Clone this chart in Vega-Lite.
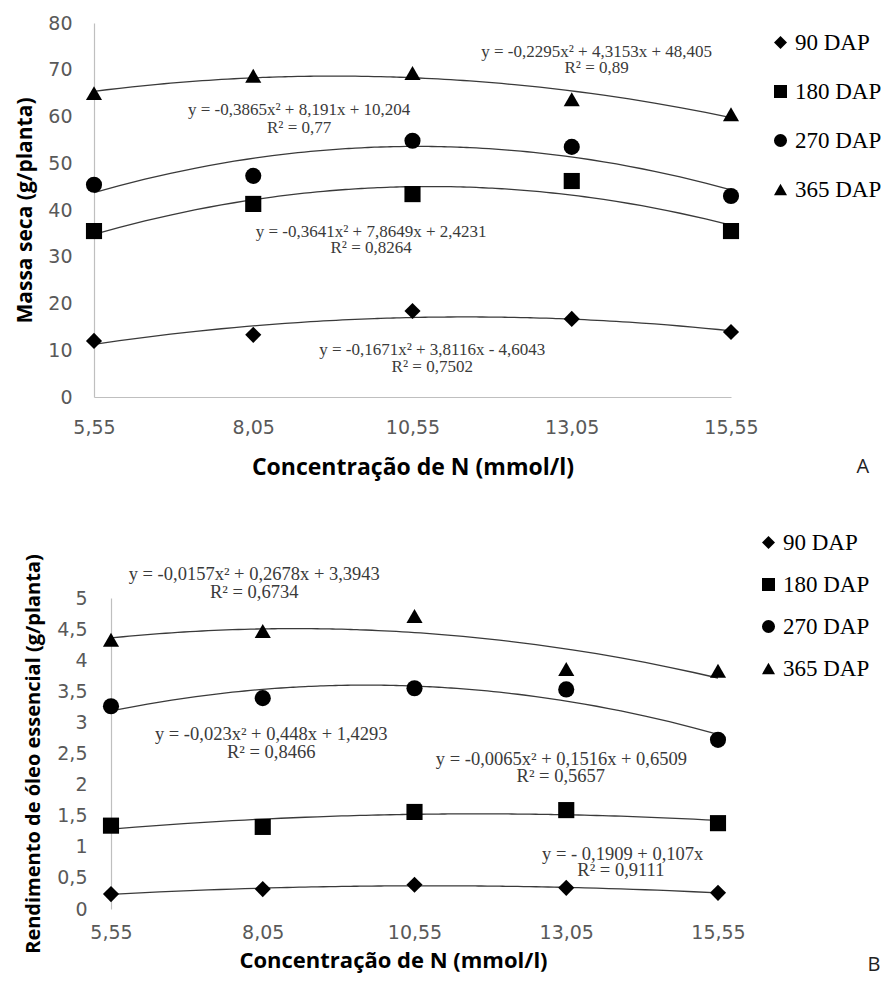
{
  "$schema": "https://vega.github.io/schema/vega-lite/v6.json",
  "background": "white",
  "padding": {"left": 14, "top": 14, "right": 0, "bottom": 5},
  "spacing": 52,
  "datasets": {
    "massa": [
      {"x": 5.55, "y": 12.0, "s": "90 DAP"}, {"x": 8.05, "y": 13.3, "s": "90 DAP"}, {"x": 10.55, "y": 18.4, "s": "90 DAP"}, {"x": 13.05, "y": 16.7, "s": "90 DAP"}, {"x": 15.55, "y": 13.9, "s": "90 DAP"},
      {"x": 5.55, "y": 35.5, "s": "180 DAP"}, {"x": 8.05, "y": 41.3, "s": "180 DAP"}, {"x": 10.55, "y": 43.4, "s": "180 DAP"}, {"x": 13.05, "y": 46.2, "s": "180 DAP"}, {"x": 15.55, "y": 35.5, "s": "180 DAP"},
      {"x": 5.55, "y": 45.4, "s": "270 DAP"}, {"x": 8.05, "y": 47.3, "s": "270 DAP"}, {"x": 10.55, "y": 54.8, "s": "270 DAP"}, {"x": 13.05, "y": 53.5, "s": "270 DAP"}, {"x": 15.55, "y": 43.0, "s": "270 DAP"},
      {"x": 5.55, "y": 65.0, "s": "365 DAP"}, {"x": 8.05, "y": 68.7, "s": "365 DAP"}, {"x": 10.55, "y": 69.3, "s": "365 DAP"}, {"x": 13.05, "y": 63.7, "s": "365 DAP"}, {"x": 15.55, "y": 60.5, "s": "365 DAP"}
    ],
    "oleo": [
      {"x": 5.55, "y": 0.24, "s": "90 DAP"}, {"x": 8.05, "y": 0.32, "s": "90 DAP"}, {"x": 10.55, "y": 0.39, "s": "90 DAP"}, {"x": 13.05, "y": 0.34, "s": "90 DAP"}, {"x": 15.55, "y": 0.26, "s": "90 DAP"},
      {"x": 5.55, "y": 1.34, "s": "180 DAP"}, {"x": 8.05, "y": 1.32, "s": "180 DAP"}, {"x": 10.55, "y": 1.56, "s": "180 DAP"}, {"x": 13.05, "y": 1.59, "s": "180 DAP"}, {"x": 15.55, "y": 1.38, "s": "180 DAP"},
      {"x": 5.55, "y": 3.26, "s": "270 DAP"}, {"x": 8.05, "y": 3.39, "s": "270 DAP"}, {"x": 10.55, "y": 3.55, "s": "270 DAP"}, {"x": 13.05, "y": 3.53, "s": "270 DAP"}, {"x": 15.55, "y": 2.72, "s": "270 DAP"},
      {"x": 5.55, "y": 4.33, "s": "365 DAP"}, {"x": 8.05, "y": 4.47, "s": "365 DAP"}, {"x": 10.55, "y": 4.71, "s": "365 DAP"}, {"x": 13.05, "y": 3.86, "s": "365 DAP"}, {"x": 15.55, "y": 3.83, "s": "365 DAP"}
    ],
    "annA": [
      {"x": 13.44, "y": 73.8, "t": "y = -0,2295x² + 4,3153x + 48,405"},
      {"x": 13.44, "y": 70.4, "t": "R² = 0,89"},
      {"x": 8.77, "y": 61.3, "t": "y = -0,3865x² + 8,191x + 10,204"},
      {"x": 8.77, "y": 57.5, "t": "R² = 0,77"},
      {"x": 9.90, "y": 35.3, "t": "y = -0,3641x² + 7,8649x + 2,4231"},
      {"x": 9.90, "y": 31.9, "t": "R² = 0,8264"},
      {"x": 10.86, "y": 10.05, "t": "y = -0,1671x² + 3,8116x - 4,6043"},
      {"x": 10.86, "y": 6.4, "t": "R² = 0,7502"}
    ],
    "annB": [
      {"x": 7.91, "y": 5.39, "t": "y = -0,0157x² + 0,2678x + 3,3943"},
      {"x": 7.91, "y": 5.10, "t": "R² = 0,6734"},
      {"x": 8.19, "y": 2.82, "t": "y = -0,023x² + 0,448x + 1,4293"},
      {"x": 8.19, "y": 2.53, "t": "R² = 0,8466"},
      {"x": 12.97, "y": 2.41, "t": "y = -0,0065x² + 0,1516x + 0,6509"},
      {"x": 12.96, "y": 2.14, "t": "R² = 0,5657"},
      {"x": 13.98, "y": 0.89, "t": "y = - 0,1909 + 0,107x"},
      {"x": 13.95, "y": 0.63, "t": "R² = 0,9111"}
    ]
  },
  "resolve": {"scale": {"shape": "independent", "y": "independent", "x": "independent"}, "legend": {"shape": "independent"}},
  "vconcat": [
    {
      "width": 637,
      "height": 374,
      "layer": [
        {
          "data": {"name": "massa"},
          "transform": [{"regression": "y", "on": "x", "groupby": ["s"], "method": "poly", "order": 2, "extent": [5.55, 15.55]}],
          "mark": {"type": "line", "color": "#3a3a3a", "strokeWidth": 1.3},
          "encoding": {
            "x": {"field": "x", "type": "quantitative", "scale": {"domain": [5.55, 15.55], "nice": false, "zero": false},
              "axis": {"values": [5.55, 8.05, 10.55, 13.05, 15.55], "tickCount": 10, "labelExpr": "replace(format(datum.value, '.2f'), '.', ',')", "title": "Concentração de N (mmol/l)", "labelPadding": 21, "titlePadding": 19, "titleFontSize": 23, "labelOverlap": false, "labelFlush": false}},
            "y": {"field": "y", "type": "quantitative", "scale": {"domain": [0, 80], "nice": false},
              "axis": {"values": [0, 10, 20, 30, 40, 50, 60, 70, 80], "tickCount": 12, "title": "Massa seca (g/planta)", "labelPadding": 22, "titlePadding": 12, "labelOverlap": false}},
            "detail": {"field": "s"}
          }
        },
        {
          "data": {"name": "massa"},
          "mark": {"type": "point", "filled": true, "color": "black", "opacity": 1, "strokeWidth": 0, "size": 260},
          "encoding": {
            "x": {"field": "x", "type": "quantitative"},
            "y": {"field": "y", "type": "quantitative"},
            "shape": {"field": "s", "type": "nominal", "scale": {"domain": ["90 DAP", "180 DAP", "270 DAP", "365 DAP"], "range": ["diamond", "square", "circle", "triangle-up"]},
              "legend": {"title": null, "orient": "none", "legendX": 675, "legendY": 8, "rowPadding": 25}}
          }
        },
        {
          "data": {"name": "annA"},
          "mark": {"type": "text", "font": "Liberation Serif", "fontSize": 17, "color": "#3a3a3a", "baseline": "middle", "align": "center"},
          "encoding": {
            "x": {"field": "x", "type": "quantitative"},
            "y": {"field": "y", "type": "quantitative"},
            "text": {"field": "t"}
          }
        },
        {
          "data": {"values": [{"x": 17.62, "y": -15.0, "t": "A"}]},
          "mark": {"type": "text", "font": "Open Sans", "fontSize": 20, "color": "#222222", "baseline": "middle", "align": "center"},
          "encoding": {
            "x": {"field": "x", "type": "quantitative"},
            "y": {"field": "y", "type": "quantitative"},
            "text": {"field": "t"}
          }
        }
      ]
    },
    {
      "width": 624,
      "height": 311,
      "layer": [
        {
          "data": {"name": "oleo"},
          "transform": [{"regression": "y", "on": "x", "groupby": ["s"], "method": "poly", "order": 2, "extent": [5.55, 15.55]}],
          "mark": {"type": "line", "color": "#3a3a3a", "strokeWidth": 1.3},
          "encoding": {
            "x": {"field": "x", "type": "quantitative", "scale": {"domain": [5.27, 15.55], "nice": false, "zero": false},
              "axis": {"values": [5.55, 8.05, 10.55, 13.05, 15.55], "tickCount": 10, "domain": false, "labelExpr": "replace(format(datum.value, '.2f'), '.', ',')", "title": "Concentração de N (mmol/l)", "labelPadding": 14, "titlePadding": 8, "titleX": 299, "titleFontSize": 22, "labelOverlap": false, "labelFlush": false}},
            "y": {"field": "y", "type": "quantitative", "scale": {"domain": [0, 5], "nice": false},
              "axis": {"values": [0, 0.5, 1, 1.5, 2, 2.5, 3, 3.5, 4, 4.5, 5], "tickCount": 12, "offset": -17, "labelExpr": "replace(format(datum.value, '~g'), '.', ',')", "title": "Rendimento de óleo essencial (g/planta)", "labelPadding": 24, "titlePadding": 13, "titleFontSize": 20, "labelOverlap": false}},
            "detail": {"field": "s"}
          }
        },
        {
          "mark": {"type": "rule", "color": "#bfbfbf", "strokeWidth": 1.2},
          "encoding": {
            "x": {"datum": 5.55, "type": "quantitative"},
            "x2": {"datum": 15.55},
            "y": {"datum": 0, "type": "quantitative"}
          }
        },
        {
          "data": {"name": "oleo"},
          "mark": {"type": "point", "filled": true, "color": "black", "opacity": 1, "strokeWidth": 0, "size": 260},
          "encoding": {
            "x": {"field": "x", "type": "quantitative"},
            "y": {"field": "y", "type": "quantitative"},
            "shape": {"field": "s", "type": "nominal", "scale": {"domain": ["90 DAP", "180 DAP", "270 DAP", "365 DAP"], "range": ["diamond", "square", "circle", "triangle-up"]},
              "legend": {"title": null, "orient": "none", "legendX": 663, "legendY": -67, "rowPadding": 18}}
          }
        },
        {
          "data": {"name": "annB"},
          "mark": {"type": "text", "font": "Liberation Serif", "fontSize": 18.5, "color": "#3a3a3a", "baseline": "middle", "align": "center"},
          "encoding": {
            "x": {"field": "x", "type": "quantitative"},
            "y": {"field": "y", "type": "quantitative"},
            "text": {"field": "t"}
          }
        },
        {
          "data": {"values": [{"x": 18.12, "y": -0.9, "t": "B"}]},
          "mark": {"type": "text", "font": "Open Sans", "fontSize": 20, "color": "#222222", "baseline": "middle", "align": "center"},
          "encoding": {
            "x": {"field": "x", "type": "quantitative"},
            "y": {"field": "y", "type": "quantitative"},
            "text": {"field": "t"}
          }
        }
      ]
    }
  ],
  "config": {
    "view": {"stroke": null},
    "axis": {
      "grid": false,
      "ticks": false,
      "tickSize": 0,
      "domainColor": "#bfbfbf",
      "domainWidth": 1.2,
      "labelFont": "DejaVu Sans",
      "labelFontSize": 19,
      "labelColor": "#595959",
      "labelFlush": false,
      "labelOverlap": false,
      "titleFont": "Open Sans",
      "titleFontSize": 21,
      "titleFontWeight": "bold",
      "titleColor": "#000000"
    },
    "legend": {
      "labelFont": "Liberation Serif",
      "labelFontSize": 23,
      "labelColor": "#000000",
      "symbolSize": 170,
      "symbolStrokeWidth": 0,
      "symbolFillColor": "black",
      "labelOffset": 3,
      "padding": 0
    }
  }
}
